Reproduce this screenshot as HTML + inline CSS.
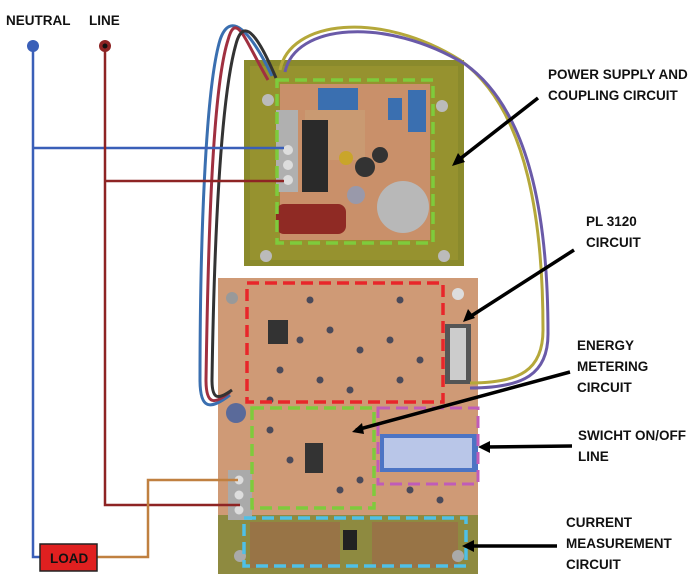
<!DOCTYPE html>
<html><head><style>body{margin:0;background:#fff}svg{display:block}</style></head><body>
<svg width="698" height="581" xmlns="http://www.w3.org/2000/svg" font-family="Liberation Sans, sans-serif" font-weight="bold" font-size="13.5">
<!-- upper board -->
<rect x="244" y="60" width="220" height="206" fill="#8a8a2c"/>
<rect x="250" y="66" width="208" height="194" fill="#96922f"/>
<rect x="280" y="84" width="150" height="156" fill="#c9906a"/>
<rect x="305" y="110" width="60" height="50" fill="#c99a72"/>
<rect x="318" y="88" width="40" height="22" fill="#3a6fb0"/>
<rect x="388" y="98" width="14" height="22" fill="#3a6fb0"/>
<rect x="408" y="90" width="18" height="42" fill="#3a6fb0"/>
<rect x="302" y="120" width="26" height="72" fill="#2a2a2a"/>
<rect x="276" y="110" width="22" height="82" fill="#b0b0b0"/>
<circle cx="288" cy="150" r="5" fill="#ddd"/><circle cx="288" cy="165" r="5" fill="#ddd"/><circle cx="288" cy="180" r="5" fill="#ddd"/>
<rect x="276" y="204" width="70" height="30" rx="8" fill="#8f2a24"/>
<circle cx="403" cy="207" r="26" fill="#b8b8b8"/>
<circle cx="365" cy="167" r="10" fill="#333"/><circle cx="380" cy="155" r="8" fill="#333"/><circle cx="356" cy="195" r="9" fill="#99a"/>
<circle cx="346" cy="158" r="7" fill="#c9a52a"/>
<circle cx="268" cy="100" r="6" fill="#bbb"/><circle cx="442" cy="106" r="6" fill="#bbb"/><circle cx="266" cy="256" r="6" fill="#bbb"/><circle cx="444" cy="256" r="6" fill="#bbb"/>
<rect x="277" y="80" width="156" height="163" fill="none" stroke="#7ecb3c" stroke-width="3.5" stroke-dasharray="12,6"/>
<!-- lower board -->
<rect x="218" y="278" width="260" height="296" fill="#cf9a76"/>
<rect x="218" y="515" width="260" height="59" fill="#8e8a40"/>
<rect x="250" y="522" width="90" height="46" fill="#9c6b48" opacity=".7"/>
<rect x="372" y="522" width="86" height="46" fill="#9c6b48" opacity=".7"/>
<rect x="343" y="530" width="14" height="20" fill="#222"/>
<rect x="380" y="434" width="98" height="38" fill="#4c74c4"/>
<rect x="384" y="438" width="88" height="30" fill="#b9c6e8"/>
<rect x="445" y="324" width="26" height="60" fill="#555"/><rect x="450" y="328" width="16" height="52" fill="#ccc"/>
<rect x="268" y="320" width="20" height="24" fill="#333"/><rect x="305" y="443" width="18" height="30" fill="#333"/>
<rect x="228" y="470" width="24" height="50" fill="#aaa"/>
<circle cx="239" cy="480" r="4.5" fill="#ddd"/><circle cx="239" cy="495" r="4.5" fill="#ddd"/><circle cx="239" cy="510" r="4.5" fill="#ddd"/>
<circle cx="236" cy="413" r="10" fill="#5a6a9a"/>
<circle cx="232" cy="298" r="6" fill="#999"/><circle cx="458" cy="294" r="6" fill="#ddd"/><circle cx="240" cy="556" r="6" fill="#aaa"/><circle cx="458" cy="556" r="6" fill="#aaa"/>
<g fill="#4a4a5a">
<circle cx="300" cy="340" r="3.5"/><circle cx="330" cy="330" r="3.5"/><circle cx="360" cy="350" r="3.5"/><circle cx="390" cy="340" r="3.5"/><circle cx="420" cy="360" r="3.5"/><circle cx="280" cy="370" r="3.5"/><circle cx="320" cy="380" r="3.5"/><circle cx="350" cy="390" r="3.5"/><circle cx="400" cy="380" r="3.5"/><circle cx="270" cy="430" r="3.5"/><circle cx="290" cy="460" r="3.5"/><circle cx="340" cy="490" r="3.5"/><circle cx="360" cy="480" r="3.5"/><circle cx="410" cy="490" r="3.5"/><circle cx="440" cy="500" r="3.5"/><circle cx="310" cy="300" r="3.5"/><circle cx="400" cy="300" r="3.5"/><circle cx="270" cy="400" r="3.5"/></g>
<rect x="247" y="283" width="196" height="119" fill="none" stroke="#e8262a" stroke-width="3.5" stroke-dasharray="12,6"/>
<rect x="252" y="408" width="122" height="100" fill="none" stroke="#7ecb3c" stroke-width="3.5" stroke-dasharray="12,6"/>
<rect x="378" y="408" width="100" height="76" fill="none" stroke="#c05cb8" stroke-width="3" stroke-dasharray="12,6"/>
<rect x="244" y="518" width="222" height="48" fill="none" stroke="#4fc0e6" stroke-width="3.5" stroke-dasharray="12,6"/>
<!-- wires -->
<g fill="none" stroke-width="3">
<path d="M280 70 C290 20 380 10 460 60 C530 110 543 230 543 330 C543 370 520 383 470 383" stroke="#b5a83a"/>
<path d="M285 72 C295 24 385 16 465 64 C535 114 548 234 548 334 C548 374 524 388 470 388" stroke="#6a5aa8"/>
<path d="M272 76 C250 30 230 10 220 40 C205 90 200 250 200 380 C200 410 210 410 230 395" stroke="#3a6fb0"/>
<path d="M268 80 C245 40 236 10 228 40 C212 90 208 250 206 380 C206 405 214 405 230 392" stroke="#a03040"/>
<path d="M276 78 C260 40 244 14 236 44 C220 100 214 250 212 380 C212 400 218 400 232 390" stroke="#333"/>
</g>
<!-- schematic lines -->
<g fill="none" stroke-width="2.5">
<path d="M33 46 V557 H40" stroke="#3a5fb8"/>
<path d="M33 148 H284" stroke="#3a5fb8"/>
<path d="M105 46 V505 H240" stroke="#8e2424"/>
<path d="M105 181 H284" stroke="#8e2424"/>
<path d="M97 557 H148 V480 H238" stroke="#c08040"/>
</g>
<circle cx="33" cy="46" r="6" fill="#3a5fb8"/>
<circle cx="105" cy="46" r="6" fill="#8e2424"/><circle cx="105" cy="46" r="2.5" fill="#111"/>
<rect x="40" y="544" width="57" height="27" fill="#e02020" stroke="#222" stroke-width="1.5"/>
<text x="50" y="563" fill="#111">LOAD</text>
<text x="6" y="25" fill="#111">NEUTRAL</text><text x="89" y="25" fill="#111">LINE</text>
<g fill="#111">
<text x="548" y="79">POWER SUPPLY AND</text><text x="548" y="100">COUPLING CIRCUIT</text>
<text x="586" y="226">PL 3120</text><text x="586" y="247">CIRCUIT</text>
<text x="577" y="350">ENERGY</text><text x="577" y="371">METERING</text><text x="577" y="392">CIRCUIT</text>
<text x="578" y="440">SWICHT ON/OFF</text><text x="578" y="461">LINE</text>
<text x="566" y="527">CURRENT</text><text x="566" y="548">MEASUREMENT</text><text x="566" y="569">CIRCUIT</text>
</g>
<g stroke="#000" stroke-width="3.5" fill="none">
<path d="M538 98 L456 162"/><path d="M574 250 L468 318"/><path d="M570 372 L356 430"/><path d="M572 446 L484 447"/><path d="M557 546 L468 546"/>
</g>
<g fill="#000">
<polygon points="452,166 458,153 465,162"/>
<polygon points="463,322 468,309 475,318"/>
<polygon points="352,432 362,423 364,434"/>
<polygon points="478,447 490,441 490,453"/>
<polygon points="462,546 474,540 474,552"/>
</g>
</svg>
</body></html>
